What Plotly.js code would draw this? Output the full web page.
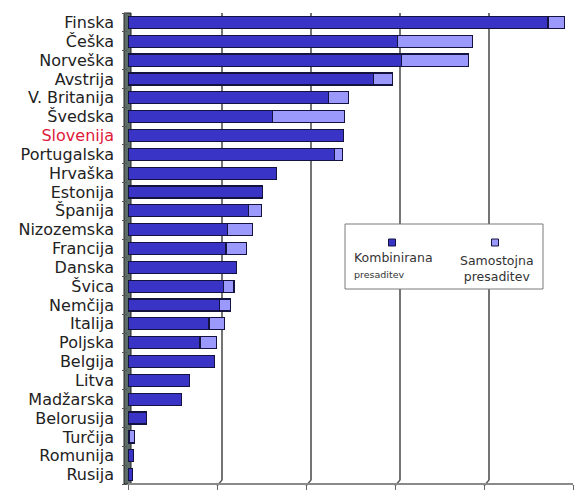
<!DOCTYPE html>
<html>
<head>
<meta charset="utf-8">
<script src="https://cdn.plot.ly/plotly-3.0.1.min.js"></script>
<style>
  html, body { margin: 0; padding: 0; background: #fff; }
  #chart { width: 577px; height: 494px; }
</style>
</head>
<body>
<div id="chart"></div>
<script>
// Countries, top to bottom
const countries = [
  "Finska", "Češka", "Norveška", "Avstrija", "V. Britanija", "Švedska",
  "Slovenija", "Portugalska", "Hrvaška", "Estonija", "Španija", "Nizozemska",
  "Francija", "Danska", "Švica", "Nemčija", "Italija", "Poljska", "Belgija",
  "Litva", "Madžarska", "Belorusija", "Turčija", "Romunija", "Rusija"
];

// Combined transplantation (Kombinirana presaditev)
const kombinirana = [
  4.72, 3.03, 3.07, 2.76, 2.25, 1.62,
  2.42, 2.32, 1.67, 1.51, 1.35, 1.12,
  1.10, 1.22, 1.07, 1.03, 0.91, 0.81, 0.97,
  0.69, 0.60, 0.21, 0.02, 0.06, 0.05
];

// Stand-alone transplantation (Samostojna presaditev)
const samostojna = [
  0.18, 0.84, 0.76, 0.21, 0.23, 0.81,
  0.00, 0.09, 0.00, 0.00, 0.15, 0.28,
  0.23, 0.00, 0.12, 0.12, 0.17, 0.18, 0.00,
  0.00, 0.00, 0.00, 0.05, 0.00, 0.00
];

const xTicks = [0, 1, 2, 3, 4, 5];

const legendNames = ["Kombinirana", "presaditev", "Samostojna", "presaditev"];

const darkBlue = "#3a34c6";
const lightBlue = "#9b99fb";
const outline = "#14123e";

// Y tick labels: Slovenija highlighted in red
const yTickText = countries.map(c =>
  c === "Slovenija" ? '<span style="color:#e0183c">' + c + '</span>' : c
);

// Plot-area geometry (pixels) for paper-coordinate helpers
const W = 577, H = 494;
const M = { l: 128, r: 4, t: 13, b: 10 };
const pw = W - M.l - M.r, ph = H - M.t - M.b;
const px = x => (x - M.l) / pw;
const py = y => (H - M.b - y) / ph;

const traces = [
  {
    type: "bar", orientation: "h", name: legendNames[0] + " " + legendNames[1],
    y: countries, x: kombinirana,
    marker: { color: darkBlue, line: { color: outline, width: 1.2 } },
    width: 0.64
  },
  {
    type: "bar", orientation: "h", name: legendNames[2] + " " + legendNames[3],
    y: countries, x: samostojna,
    marker: { color: lightBlue, line: { color: outline, width: 1.2 } },
    width: 0.64
  }
];

const shapes = [];

// Back-wall gridlines, shifted right for the depth effect
xTicks.slice(1).forEach(v => {
  shapes.push({
    type: "line", layer: "below",
    xref: "x", xsizemode: "pixel", xanchor: v, x0: 5, x1: 5,
    yref: "paper", y0: 0.008, y1: 1,
    line: { color: "#2a2a2a", width: 1.3 }
  });
  shapes.push({
    type: "line", layer: "below",
    xref: "x", xsizemode: "pixel", xanchor: v, x0: 5, x1: 0,
    yref: "paper", ysizemode: "pixel", yanchor: 0, y0: 4, y1: -2,
    line: { color: "#555", width: 1.3 }
  });
});

// Left side wall
shapes.push({
  type: "rect", layer: "below",
  xref: "paper", xsizemode: "pixel", xanchor: 0, x0: -4, x1: 3,
  yref: "paper", y0: 0, y1: 1,
  fillcolor: "#5e6d68", line: { color: "#222", width: 1 }
});

// Floor edge
shapes.push({
  type: "line", layer: "above",
  xref: "paper", x0: 0, x1: 1,
  yref: "paper", y0: 0, y1: 0,
  line: { color: "#8a8a8a", width: 2 }
});

// Legend box
shapes.push({
  type: "rect", layer: "above",
  xref: "paper", x0: px(345), x1: px(543),
  yref: "paper", y0: py(289), y1: py(224),
  fillcolor: "#ffffff", line: { color: "#7a7a7a", width: 1 }
});
// Legend swatches
[[392, darkBlue], [495, lightBlue]].forEach(([cx, col]) => {
  shapes.push({
    type: "rect", layer: "above",
    xref: "paper", x0: px(cx - 3.5), x1: px(cx + 3.5),
    yref: "paper", y0: py(246), y1: py(239),
    fillcolor: col, line: { color: outline, width: 1 }
  });
});

const labelFont = "'DejaVu Sans', Verdana, sans-serif";
const annotations = [
  { text: legendNames[0] + '<br><span style="font-size:9.5px">' + legendNames[1] + '</span>',
    x: px(352), y: py(265), xanchor: "left", yanchor: "middle", align: "left",
    font: { size: 12.5, color: "#333", family: labelFont } },
  { text: legendNames[2] + '<br>' + legendNames[3],
    x: px(497), y: py(268), xanchor: "center", yanchor: "middle", align: "center",
    font: { size: 12.5, color: "#333", family: labelFont } }
].map(a => Object.assign({ xref: "paper", yref: "paper", showarrow: false }, a));

const layout = {
  width: W, height: H,
  margin: M,
  paper_bgcolor: "#ffffff", plot_bgcolor: "#ffffff",
  barmode: "stack",
  showlegend: false,
  xaxis: {
    range: [0, 5], tickvals: xTicks, ticktext: xTicks.map(String),
    showgrid: false, zeroline: false, showline: false,
    ticks: "outside", ticklen: 5, tickcolor: "#666",
    tickfont: { size: 11, color: "#333", family: labelFont },
    fixedrange: true
  },
  yaxis: {
    type: "category", autorange: "reversed",
    tickvals: countries, ticktext: yTickText,
    tickson: "boundaries", ticks: "outside", ticklen: 5, tickcolor: "#555",
    ticklabelstandoff: 13,
    showgrid: false, zeroline: false, showline: false,
    tickfont: { size: 16, color: "#222", family: labelFont },
    fixedrange: true
  },
  shapes: shapes,
  annotations: annotations
};

Plotly.newPlot("chart", traces, layout, { staticPlot: true, displayModeBar: false });
</script>
</body>
</html>
